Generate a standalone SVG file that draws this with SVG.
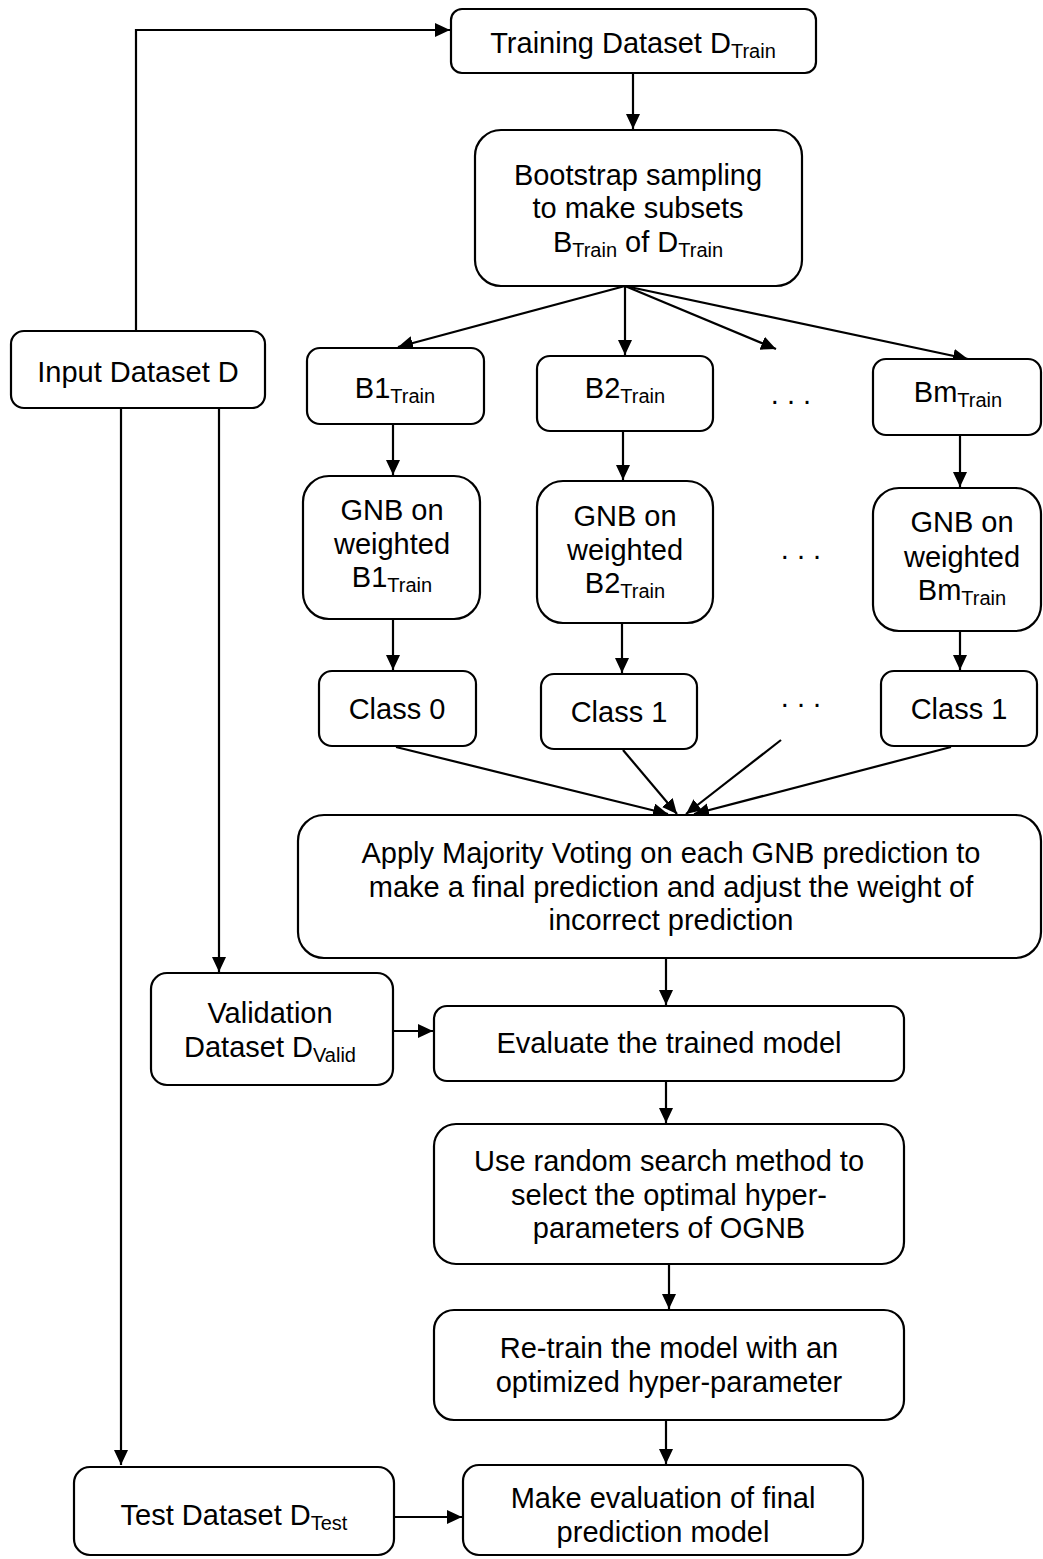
<svg xmlns="http://www.w3.org/2000/svg" width="1043" height="1559" viewBox="0 0 1043 1559">
<style>
.n{fill:#fff;stroke:#000;stroke-width:2.2}
.t{font-family:"Liberation Sans",Arial,sans-serif;font-size:29px;fill:#000;text-anchor:middle}
.c{fill:none;stroke:#000;stroke-width:2.2}
.s{font-size:20px}
</style>
<defs>
<marker id="a" markerUnits="userSpaceOnUse" markerWidth="16" markerHeight="14" refX="15" refY="7" orient="auto">
<path d="M0,0 L15,7 L0,14 z" fill="#000"/>
</marker>
</defs>
<rect width="1043" height="1559" fill="#fff"/>
<g id="connectors">
<path class="c" d="M136,330 V30 H450" marker-end="url(#a)"/>
<path class="c" d="M633,73 V129" marker-end="url(#a)"/>
<path class="c" d="M625,286 L398,347" marker-end="url(#a)"/>
<path class="c" d="M625,286 V355" marker-end="url(#a)"/>
<path class="c" d="M625,286 L776,349" marker-end="url(#a)"/>
<path class="c" d="M625,286 L968,359" marker-end="url(#a)"/>
<path class="c" d="M393,424 V475" marker-end="url(#a)"/>
<path class="c" d="M623,431 V480" marker-end="url(#a)"/>
<path class="c" d="M960,435 V487" marker-end="url(#a)"/>
<path class="c" d="M393,619 V670" marker-end="url(#a)"/>
<path class="c" d="M622,623 V673" marker-end="url(#a)"/>
<path class="c" d="M960,631 V670" marker-end="url(#a)"/>
<path class="c" d="M396,747 L668,814" marker-end="url(#a)"/>
<path class="c" d="M623,750 L677,814" marker-end="url(#a)"/>
<path class="c" d="M781,740 L686,814" marker-end="url(#a)"/>
<path class="c" d="M951,747 L694,814" marker-end="url(#a)"/>
<path class="c" d="M121,408 V1465" marker-end="url(#a)"/>
<path class="c" d="M219,408 V972" marker-end="url(#a)"/>
<path class="c" d="M666,958 V1005" marker-end="url(#a)"/>
<path class="c" d="M393,1031 H433" marker-end="url(#a)"/>
<path class="c" d="M666,1081 V1123" marker-end="url(#a)"/>
<path class="c" d="M669,1264 V1309" marker-end="url(#a)"/>
<path class="c" d="M666,1420 V1464" marker-end="url(#a)"/>
<path class="c" d="M394,1517 H462" marker-end="url(#a)"/>
</g>
<g id="training">
<rect class="n" x="451" y="9" width="365" height="64" rx="11"/>
<text class="t" x="633" y="53">Training Dataset D<tspan class="s" dy="5">Train</tspan></text>
</g>
<g id="bootstrap">
<rect class="n" x="475" y="130" width="327" height="156" rx="26"/>
<text class="t" x="638" y="185">Bootstrap sampling</text>
<text class="t" x="638" y="218">to make subsets</text>
<text class="t" x="638" y="252">B<tspan class="s" dy="5">Train</tspan><tspan dy="-5"> of D</tspan><tspan class="s" dy="5">Train</tspan></text>
</g>
<g id="input">
<rect class="n" x="11" y="331" width="254" height="77" rx="13"/>
<text class="t" x="138" y="382">Input Dataset D</text>
</g>
<g id="b1">
<rect class="n" x="307" y="348" width="177" height="76" rx="13"/>
<text class="t" x="395" y="398">B1<tspan class="s" dy="5">Train</tspan></text>
</g>
<g id="b2">
<rect class="n" x="537" y="356" width="176" height="75" rx="13"/>
<text class="t" x="625" y="398">B2<tspan class="s" dy="5">Train</tspan></text>
</g>
<g id="dots1"><text class="t" x="791" y="404">. . .</text></g>
<g id="bm">
<rect class="n" x="873" y="359" width="168" height="76" rx="13"/>
<text class="t" x="958" y="402">Bm<tspan class="s" dy="5">Train</tspan></text>
</g>
<g id="gnb1">
<rect class="n" x="303" y="476" width="177" height="143" rx="26"/>
<text class="t" x="392" y="520">GNB on</text>
<text class="t" x="392" y="554">weighted</text>
<text class="t" x="392" y="587">B1<tspan class="s" dy="5">Train</tspan></text>
</g>
<g id="gnb2">
<rect class="n" x="537" y="481" width="176" height="142" rx="26"/>
<text class="t" x="625" y="526">GNB on</text>
<text class="t" x="625" y="560">weighted</text>
<text class="t" x="625" y="593">B2<tspan class="s" dy="5">Train</tspan></text>
</g>
<g id="dots2"><text class="t" x="801" y="559">. . .</text></g>
<g id="gnbm">
<rect class="n" x="873" y="488" width="168" height="143" rx="26"/>
<text class="t" x="962" y="532">GNB on</text>
<text class="t" x="962" y="567">weighted</text>
<text class="t" x="962" y="600">Bm<tspan class="s" dy="5">Train</tspan></text>
</g>
<g id="class0">
<rect class="n" x="319" y="671" width="157" height="75" rx="13"/>
<text class="t" x="397" y="719">Class 0</text>
</g>
<g id="class1a">
<rect class="n" x="541" y="674" width="156" height="75" rx="13"/>
<text class="t" x="619" y="722">Class 1</text>
</g>
<g id="dots3"><text class="t" x="801" y="707">. . .</text></g>
<g id="class1b">
<rect class="n" x="881" y="671" width="156" height="75" rx="13"/>
<text class="t" x="959" y="719">Class 1</text>
</g>
<g id="majority">
<rect class="n" x="298" y="815" width="743" height="143" rx="26"/>
<text class="t" x="671" y="863">Apply Majority Voting on each GNB prediction to</text>
<text class="t" x="671" y="897">make a final prediction and adjust the weight of</text>
<text class="t" x="671" y="930">incorrect prediction</text>
</g>
<g id="validation">
<rect class="n" x="151" y="973" width="242" height="112" rx="16"/>
<text class="t" x="270" y="1023">Validation</text>
<text class="t" x="270" y="1057">Dataset D<tspan class="s" dy="5">Valid</tspan></text>
</g>
<g id="evaluate">
<rect class="n" x="434" y="1006" width="470" height="75" rx="13"/>
<text class="t" x="669" y="1053">Evaluate the trained model</text>
</g>
<g id="random">
<rect class="n" x="434" y="1124" width="470" height="140" rx="22"/>
<text class="t" x="669" y="1171">Use random search method to</text>
<text class="t" x="669" y="1205">select the optimal hyper-</text>
<text class="t" x="669" y="1238">parameters of OGNB</text>
</g>
<g id="retrain">
<rect class="n" x="434" y="1310" width="470" height="110" rx="20"/>
<text class="t" x="669" y="1358">Re-train the model with an</text>
<text class="t" x="669" y="1392">optimized hyper-parameter</text>
</g>
<g id="test">
<rect class="n" x="74" y="1467" width="320" height="88" rx="16"/>
<text class="t" x="234" y="1525">Test Dataset D<tspan class="s" dy="5">Test</tspan></text>
</g>
<g id="final">
<rect class="n" x="463" y="1465" width="400" height="90" rx="16"/>
<text class="t" x="663" y="1508">Make evaluation of final</text>
<text class="t" x="663" y="1542">prediction model</text>
</g>
</svg>
